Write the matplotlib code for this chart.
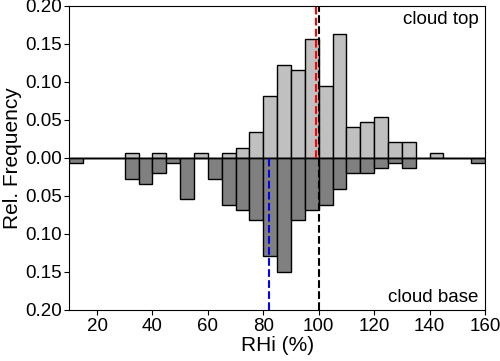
import matplotlib
matplotlib.use('Agg')
import matplotlib.pyplot as plt
import numpy as np

plt.rcParams['font.family'] = ['Liberation Sans', 'DejaVu Sans']

# bin left edges (RHi %), width 5
bordes = np.arange(10, 160, 5)
# cloud top relative frequency per bin
tope = [0, 0, 0, 0, 0.0068, 0, 0.0068, 0, 0, 0.0068,
        0, 0.0068, 0.0136, 0.034, 0.0816, 0.1224, 0.1156, 0.1565, 0.0952, 0.1633,
        0.0408, 0.0476, 0.0544, 0.0204, 0.0204, 0, 0.0068, 0, 0, 0]
# cloud base relative frequency per bin
base = [0.0068, 0, 0, 0, 0.0272, 0.034, 0.0204, 0.0068, 0.0544, 0,
        0.0272, 0.0612, 0.068, 0.0816, 0.1293, 0.1497, 0.0816, 0.068, 0.0612, 0.0408,
        0.0204, 0.0204, 0.0136, 0.0068, 0.0136, 0, 0, 0, 0, 0.0068]

mediana_tope = 99
mediana_base = 82

fig = plt.figure(figsize=(5, 3.61), dpi=100)
ax = fig.add_axes([0.1386, 0.1413, 0.8314, 0.8421])

ax.bar(bordes, tope, width=5, align='edge', color='#c0c0c0', edgecolor='black', linewidth=1)
ax.bar(bordes, [-b for b in base], width=5, align='edge', color='#808080', edgecolor='black', linewidth=1)

ax.axhline(0, color='black', linewidth=1)
ax.plot([100, 100], [-0.2, 0.2], '--', color='black', linewidth=1.5)
ax.plot([mediana_tope, mediana_tope], [0, 0.2], '--', color='red', linewidth=1.5)
ax.plot([mediana_base, mediana_base], [-0.2, 0], '--', color='blue', linewidth=1.5)

ax.set_xlim(10, 160)
ax.set_ylim(-0.2, 0.2)
yt = np.arange(-0.2, 0.21, 0.05)
ax.set_yticks(yt)
ax.set_yticklabels(['%.2f' % abs(v) for v in yt])
ax.set_xticks(range(20, 161, 20))
ax.tick_params(labelsize=13.5, direction='out', length=3.5, pad=2)

ax.text(0.984, 0.983, 'cloud top', transform=ax.transAxes, ha='right', va='top', fontsize=13.5)
ax.text(0.984, 0.026, 'cloud base', transform=ax.transAxes, ha='right', va='baseline', fontsize=13.5)

ax.set_xlabel('RHi (%)', fontsize=15, labelpad=1)
ax.set_ylabel('Rel. Frequency', fontsize=15, labelpad=2)

fig.savefig('out.png', dpi=100)
